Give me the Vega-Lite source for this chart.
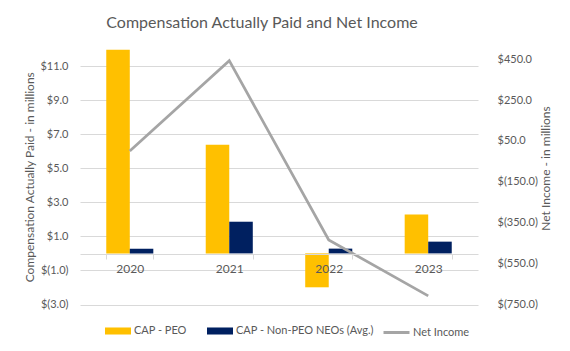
{
  "$schema": "https://vega.github.io/schema/vega-lite/v6.json",
  "autosize": "none",
  "width": 398,
  "height": 255.5,
  "padding": {"left": 80, "top": 49, "right": 92, "bottom": 46.5},
  "background": "white",
  "title": {"text": "Compensation Actually Paid and Net Income", "font": "Lato", "fontSize": 16, "fontWeight": "normal", "color": "#595959", "anchor": "middle", "dx": -17, "offset": 18},
  "config": {
    "view": {"stroke": null},
    "font": "Lato",
    "axis": {"labelColor": "#595959", "labelFont": "Lato", "labelFontSize": 11, "titleColor": "#595959", "titleFont": "Lato", "titleFontSize": 12, "titleFontWeight": "normal"},
    "legend": {"labelColor": "#595959", "labelFont": "Lato", "labelFontSize": 11}
  },
  "datasets": {
    "bars": [
      {"year": "2020", "series": "CAP - PEO", "value": 11.95},
      {"year": "2020", "series": "CAP - Non-PEO NEOs (Avg.)", "value": 0.28},
      {"year": "2021", "series": "CAP - PEO", "value": 6.38},
      {"year": "2021", "series": "CAP - Non-PEO NEOs (Avg.)", "value": 1.86},
      {"year": "2022", "series": "CAP - PEO", "value": -1.99},
      {"year": "2022", "series": "CAP - Non-PEO NEOs (Avg.)", "value": 0.28},
      {"year": "2023", "series": "CAP - PEO", "value": 2.29},
      {"year": "2023", "series": "CAP - Non-PEO NEOs (Avg.)", "value": 0.69}
    ],
    "net": [
      {"year": "2020", "series": "Net Income", "net": 1},
      {"year": "2021", "series": "Net Income", "net": 443},
      {"year": "2022", "series": "Net Income", "net": -434},
      {"year": "2023", "series": "Net Income", "net": -708}
    ]
  },
  "layer": [
    {
      "data": {"name": "bars"},
      "mark": {"type": "bar"},
      "encoding": {
        "x": {
          "field": "year", "type": "nominal",
          "scale": {"paddingInner": 0.527, "paddingOuter": 0.264},
          "axis": {"orient": "bottom", "offset": -50.5, "title": null, "labelAngle": 0, "labelFontSize": 12, "domainColor": "#d9d9d9", "tickColor": "#d9d9d9", "tickSize": 5, "tickBand": "extent", "labelPadding": 4, "grid": false, "zindex": 1}
        },
        "xOffset": {"field": "series", "type": "nominal", "scale": {"domain": ["CAP - PEO", "CAP - Non-PEO NEOs (Avg.)"], "paddingInner": 0, "paddingOuter": 0}},
        "y": {
          "field": "value", "type": "quantitative",
          "scale": {"domain": [-3, 12], "nice": false, "zero": false},
          "axis": {"values": [-3, -1, 1, 3, 5, 7, 9, 11], "grid": true, "gridColor": "#d9d9d9", "domain": false, "ticks": false, "labelPadding": 12, "title": "Compensation Actually Paid - in millions", "titlePadding": 3,
            "labelExpr": "datum.value < 0 ? '$(' + format(-datum.value, '.1f') + ')' : '$' + format(datum.value, '.1f')"}
        },
        "color": {
          "field": "series", "type": "nominal",
          "scale": {"domain": ["CAP - PEO", "CAP - Non-PEO NEOs (Avg.)"], "range": ["#FFC000", "#002060"]},
          "legend": {"orient": "none", "legendX": 25, "legendY": 269, "direction": "horizontal", "title": null, "symbolType": "M-1,-0.27H1V0.27H-1Z", "symbolSize": 676, "symbolStrokeWidth": 0, "labelOffset": 3, "columnPadding": 20}
        }
      }
    },
    {
      "data": {"name": "net"},
      "mark": {"type": "line", "strokeWidth": 2.75},
      "encoding": {
        "x": {"field": "year", "type": "nominal"},
        "y": {
          "field": "net", "type": "quantitative",
          "scale": {"domain": [-750, 500], "nice": false, "zero": false},
          "axis": {"orient": "right", "values": [-750, -550, -350, -150, 50, 250, 450], "grid": false, "domain": false, "ticks": false, "labelPadding": 19, "title": "Net Income - in millions", "titleAngle": 270, "titleBaseline": "middle", "titleAlign": "center", "titleX": 67, "titleY": 119,
            "labelExpr": "datum.value < 0 ? '$(' + format(-datum.value, '.1f') + ')' : '$' + format(datum.value, '.1f')"}
        },
        "stroke": {
          "field": "series", "type": "nominal",
          "scale": {"domain": ["Net Income"], "range": ["#A5A5A5"]},
          "legend": {"orient": "none", "legendX": 302, "legendY": 269, "direction": "horizontal", "title": null, "symbolType": "M-1,0H1", "symbolSize": 676, "symbolStrokeWidth": 3, "labelOffset": 2}
        }
      }
    }
  ],
  "resolve": {"scale": {"y": "independent"}}
}
